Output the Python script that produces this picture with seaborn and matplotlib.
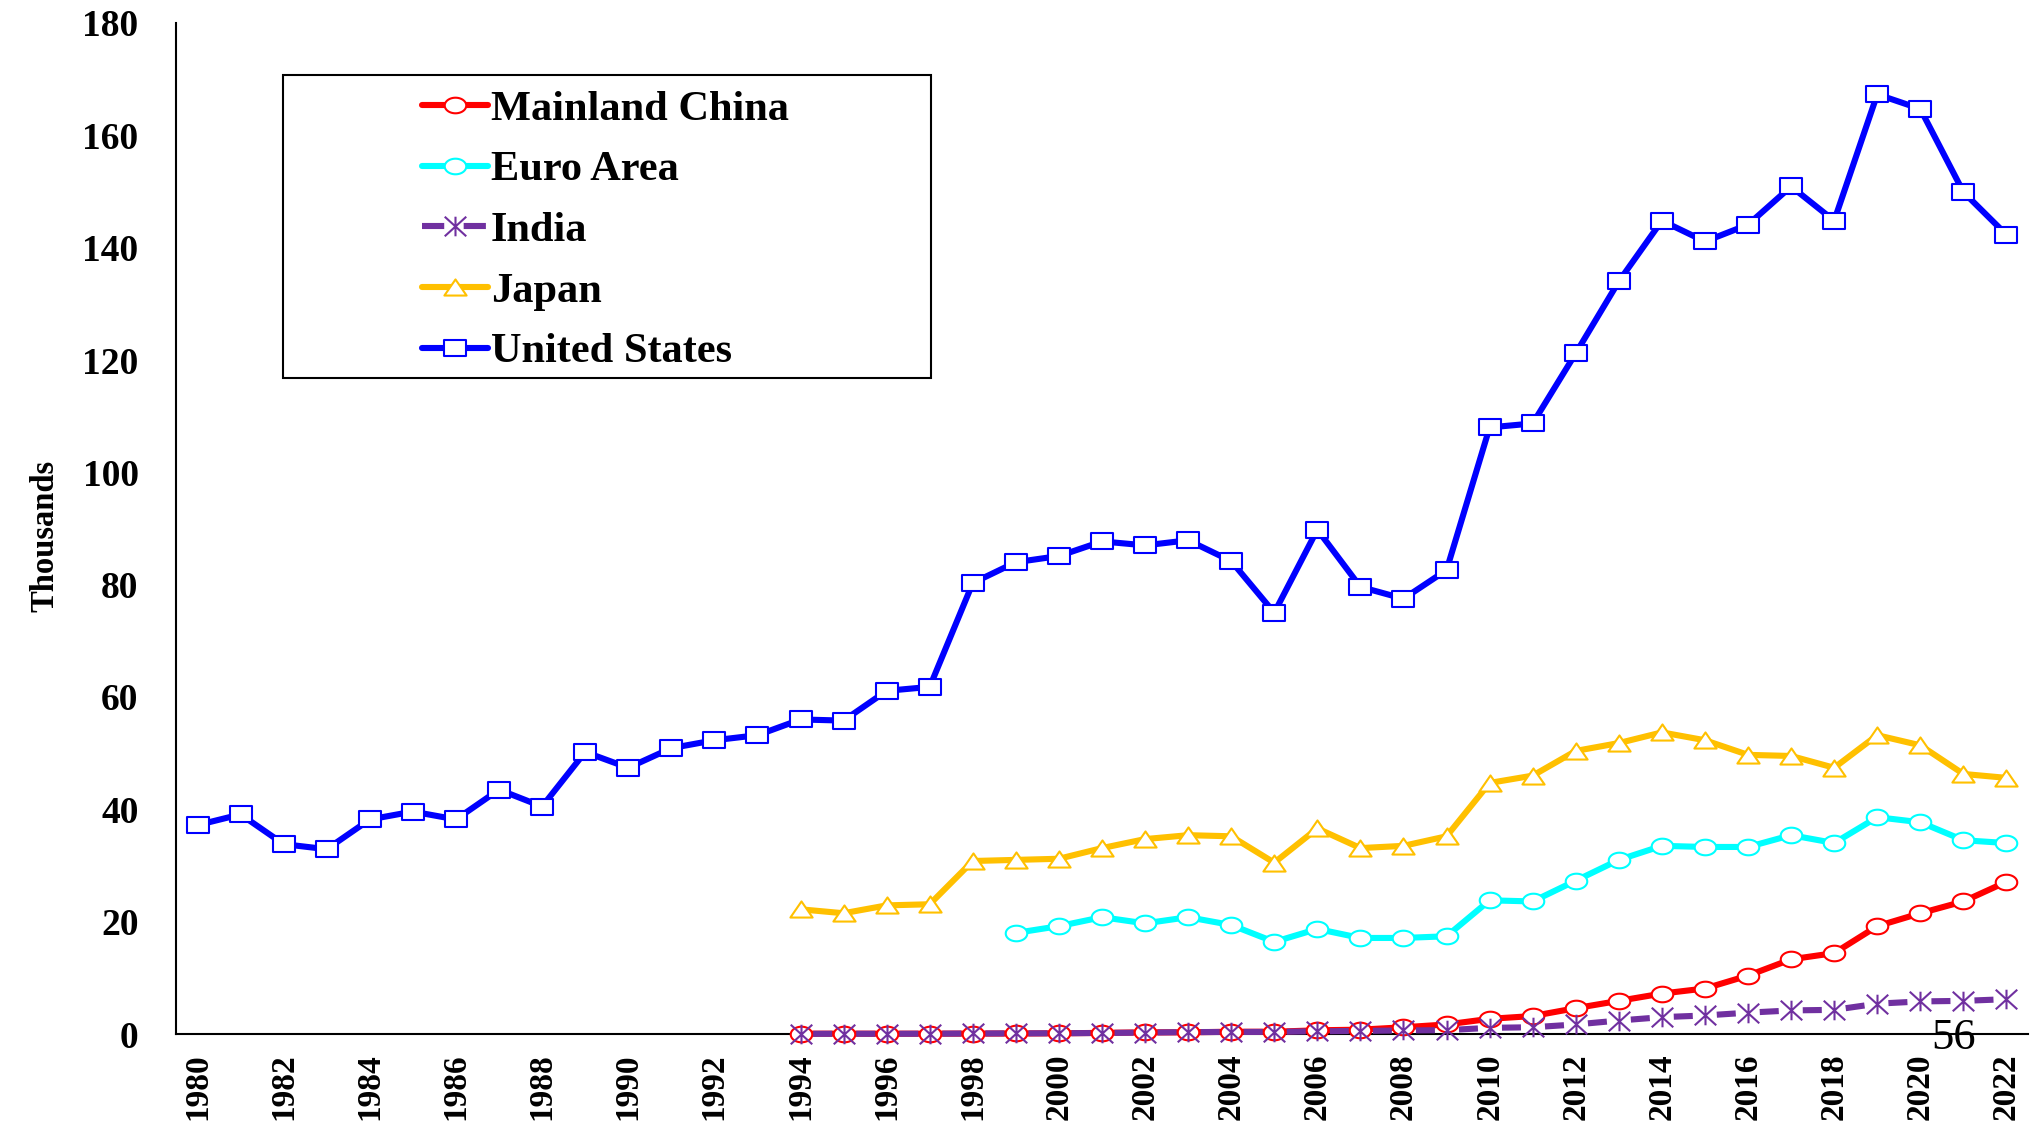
import numpy as np
import matplotlib
matplotlib.use("Agg")
import matplotlib.pyplot as plt
from matplotlib.path import Path
from matplotlib.patches import Rectangle
import seaborn as sns

# ---------------- data (thousands) ----------------
us_years = list(range(1980, 2023))
us_vals = [37.2, 39.1, 33.8, 32.9, 38.2, 39.6, 38.2, 43.5, 40.5, 50.2,
           47.4, 50.9, 52.3, 53.2, 56.0, 55.8, 61.1, 61.8, 80.3, 84.0,
           85.1, 87.7, 87.0, 87.9, 84.2, 75.0, 89.8, 79.6, 77.5, 82.6,
           108.0, 108.7, 121.2, 134.0, 144.8, 141.1, 144.1, 150.9, 144.8, 167.3,
           164.7, 149.9, 142.3]

jp_years = list(range(1994, 2023))
jp_vals = [22.2, 21.5, 22.9, 23.1, 30.8, 31.0, 31.2, 33.1, 34.7, 35.4,
           35.2, 30.5, 36.6, 33.1, 33.5, 35.2, 44.7, 46.0, 50.4, 51.8,
           53.7, 52.3, 49.7, 49.5, 47.4, 53.2, 51.4, 46.3, 45.6]

eu_years = list(range(1999, 2023))
eu_vals = [18.0, 19.2, 20.8, 19.7, 20.8, 19.4, 16.4, 18.7, 17.1, 17.1,
           17.4, 23.8, 23.6, 27.3, 31.0, 33.5, 33.3, 33.3, 35.4, 34.0,
           38.6, 37.7, 34.5, 34.0]

cn_years = list(range(1994, 2023))
cn_vals = [0.05, 0.06, 0.05, 0.06, 0.07, 0.09, 0.12, 0.2, 0.29, 0.3,
           0.4, 0.4, 0.66, 0.77, 1.2, 1.7, 2.7, 3.2, 4.6, 5.9,
           7.2, 8.1, 10.4, 13.3, 14.4, 19.2, 21.5, 23.6, 27.1]

in_years = list(range(1994, 2023))
in_vals = [0.03, 0.04, 0.04, 0.05, 0.09, 0.11, 0.13, 0.18, 0.25, 0.34,
           0.36, 0.38, 0.48, 0.55, 0.63, 0.68, 1.1, 1.2, 1.7, 2.4,
           3.0, 3.3, 3.8, 4.2, 4.3, 5.4, 5.8, 5.9, 6.2]

labels = ["Mainland China", "Euro Area", "India", "Japan", "United States"]
colors = ["#FF0000", "#00FFFF", "#7030A0", "#FFC000", "#0000FF"]

# ---------------- style ----------------
sns.set_style("white")
plt.rcParams["font.family"] = ["Liberation Serif", "DejaVu Serif"]
plt.rcParams["font.weight"] = "bold"
plt.rcParams["lines.scale_dashes"] = False
plt.rcParams["text.color"] = "black"
plt.rcParams["axes.labelcolor"] = "black"
plt.rcParams["xtick.color"] = "black"
plt.rcParams["ytick.color"] = "black"

# custom (horizontally stretched) markers
asp = 1.38
t = np.linspace(0, 2 * np.pi, 73)
ellipse = Path(np.column_stack([asp * np.cos(t), np.sin(t)]), closed=True)
square = Path([(-asp, -1), (asp, -1), (asp, 1), (-asp, 1), (-asp, -1)], closed=True)
triangle = Path([(0, 1), (-asp, -1), (asp, -1), (0, 1)], closed=True)
ax_ = 1.1
aster = Path([(0, -1), (0, 1), (-ax_, -1), (ax_, 1), (-ax_, 1), (ax_, -1)],
             [Path.MOVETO, Path.LINETO, Path.MOVETO, Path.LINETO, Path.MOVETO, Path.LINETO])

fig = plt.figure(figsize=(20.36, 11.30), dpi=100)
ax = fig.add_axes([176 / 2036, 1 - 1034 / 1130, (2028 - 176) / 2036, (1034 - 23) / 1130])

series = [
    (cn_years, cn_vals, ellipse, 15.5, "-", "white"),
    (eu_years, eu_vals, ellipse, 15.5, "-", "white"),
    (in_years, in_vals, aster, 15.5, (21.9, (13.7, 17.3)), "none"),
    (jp_years, jp_vals, triangle, 16.0, "-", "white"),
    (us_years, us_vals, square, 16.0, "-", "white"),
]
for i, (xs, ys, mk, ms, ls, mfc) in enumerate(series):
    sns.lineplot(x=xs, y=ys, ax=ax, estimator=None, sort=False,
                 color=colors[i], label=labels[i], lw=4.4, linestyle=ls,
                 marker=mk, markersize=ms, markerfacecolor=mfc,
                 markeredgecolor=colors[i], markeredgewidth=1.5,
                 clip_on=False, zorder=3 + i)

ax.set_xlim(1979.5, 2022.5)
ax.set_ylim(0, 180)
for s in ["top", "right"]:
    ax.spines[s].set_visible(False)
for s in ["left", "bottom"]:
    ax.spines[s].set_linewidth(1.5)
    ax.spines[s].set_color("black")

ax.set_yticks(range(0, 181, 20))
ax.tick_params(axis="y", direction="in", length=9.5, width=1.4, pad=27,
               labelsize=27, colors="black")
ax.set_xticks(range(1980, 2023, 2))
ax.set_xticklabels([str(y) for y in range(1980, 2023, 2)], rotation=90)
ax.set_xticks(np.arange(1979.5, 2023, 1), minor=True)
ax.tick_params(axis="x", which="major", length=0, pad=14, labelsize=24, colors="black")
ax.tick_params(axis="x", which="minor", direction="in", length=6.5, width=1.4, colors="black")
for lab in ax.get_xticklabels() + ax.get_yticklabels():
    lab.set_fontweight("bold")

ax.set_xlabel("")
ax.set_ylabel("Thousands", fontsize=23.5, fontweight="bold", color="black")
ax.yaxis.set_label_coords(60 / 2036, 1 - 536 / 1130, transform=fig.transFigure)

leg = ax.legend(loc="upper left", bbox_to_anchor=(422 / 2036, 1 - 90 / 1130),
                bbox_transform=fig.transFigure, frameon=False, borderpad=0,
                fontsize=30.5, handlelength=1.55, handletextpad=0.08,
                labelspacing=0.52, numpoints=1, borderaxespad=0)
for txt in leg.get_texts():
    txt.set_fontweight("bold")
    txt.set_color("black")
leg.legend_handles[2].set_linestyle((0, (16, 14)))
fig.patches.append(Rectangle((283 / 2036, 1 - 378 / 1130), 648 / 2036, 303 / 1130,
                             transform=fig.transFigure, fill=False,
                             edgecolor="black", linewidth=1.5, zorder=10))

fig.text(1954 / 2036, 1 - 1038 / 1130, "56", fontsize=32, fontweight="normal",
         ha="center", va="center", color="black", zorder=20)

fig.savefig("out.png", dpi=100)
